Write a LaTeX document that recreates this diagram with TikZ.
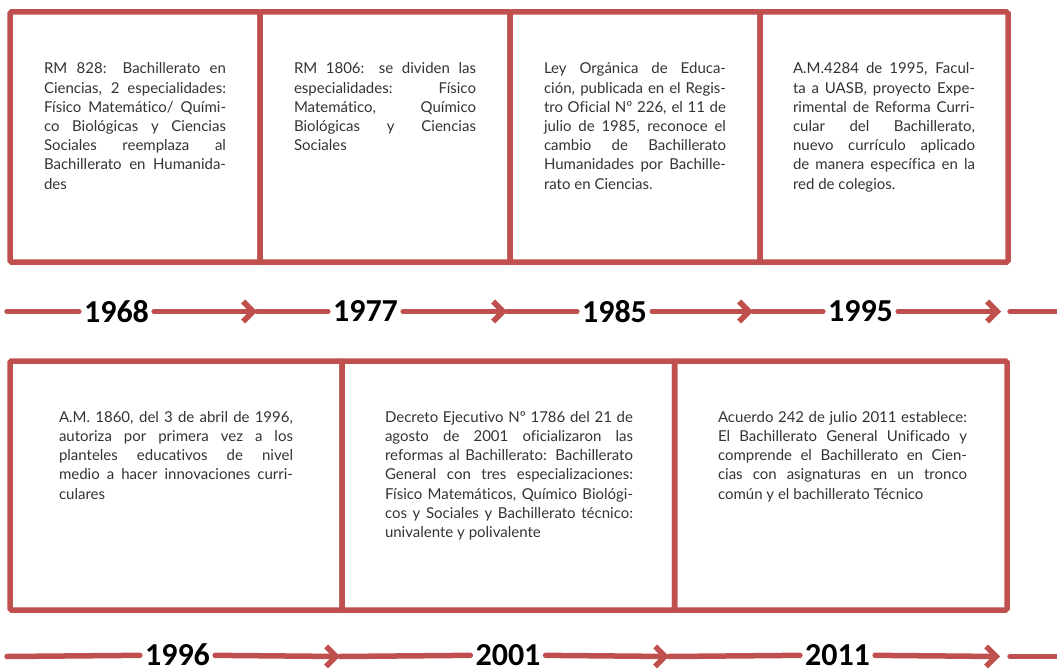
\documentclass[tikz,border=0pt]{standalone}
\usepackage{fontspec}
\setmainfont{Lato}[Ligatures=NoCommon]
\newfontfamily\yearfont{Carlito}
\usetikzlibrary{arrows.meta}
\definecolor{tlred}{HTML}{C0504D}

\begin{document}
\begin{tikzpicture}[x=1pt,y=-1pt,
  card/.style={draw=tlred,line width=5.5pt,rounded corners=1.5pt,inner sep=0pt,outer sep=0pt},
  note/.style={anchor=north,inner sep=0pt,align=justify,text=black!80,
    font={\fontsize{15}{19.2}\selectfont\tolerance=10000\hyphenpenalty=10000}},
  year/.style={inner xsep=5pt,inner ysep=0.5pt,font={\yearfont\bfseries\fontsize{32}{32}\selectfont}},
  tline/.style={tlred,line width=5.5pt,line cap=round},
  tarrow/.style={tline,-{Straight Barb[length=10pt,width=20pt]}}]
\useasboundingbox (0,0) rectangle (1057,671);

% top row of cards
\node[card,minimum width=250pt,minimum height=250pt] (b68) at (135,137) {};
\node[card,minimum width=250pt,minimum height=250pt] (b77) at (385,137) {};
\node[card,minimum width=250pt,minimum height=250pt] (b85) at (635,137) {};
\node[card,minimum width=248pt,minimum height=250pt] (b95) at (884,137) {};

\node[note,text width=182pt] (n68) at (135,62.6) {RM 828: Bachillerato en\linebreak
Ciencias, 2 especialidades:\linebreak
Físico Matemático/ Quími-\linebreak
co Biológicas y Ciencias\linebreak
Sociales reemplaza al\linebreak
Bachillerato en Humanida-\linebreak
des};
\node[note,text width=182pt] (n77) at (385,62.6) {RM 1806: se dividen las\linebreak
especialidades: Físico\linebreak
Matemático, Químico\linebreak
Biológicas y Ciencias\linebreak
Sociales};
\node[note,text width=182pt] (n85) at (635,62.6) {Ley Orgánica de Educa-\linebreak
ción, publicada en el Regis-\linebreak
tro Oficial Nº 226, el 11 de\linebreak
julio de 1985, reconoce el\linebreak
cambio de Bachillerato\linebreak
Humanidades por Bachille-\linebreak
rato en Ciencias.};
\node[note,text width=182pt] (n95) at (884,62.6) {A.M.4284 de 1995, Facul-\linebreak
ta a UASB, proyecto Expe-\linebreak
rimental de Reforma Curri-\linebreak
cular del Bachillerato,\linebreak
nuevo currículo aplicado\linebreak
de manera específica en la\linebreak
red de colegios.};

% top time line
\node[year] (y68) at (116.5,311.5) {1968};
\node[year] (y77) at (365.5,311.5) {1977};
\node[year] (y85) at (614.5,311.5) {1985};
\node[year] (y95) at (860.5,311.5) {1995};
\coordinate (s1) at (7,311.5);
\coordinate (a68) at (257,311.5);
\coordinate (a77) at (507,311.5);
\coordinate (a85) at (753,311.5);
\coordinate (a95) at (1001,311.5);
\coordinate (r1) at (1010,311.5);
\coordinate (e1) at (1065,311.5);

\draw[tline] (s1) -- (y68);
\foreach \from/\tip/\to in {y68/a68/y77,y77/a77/y85,y85/a85/y95} {
  \draw[tarrow] (\from) -- (\tip);
  \draw[tline] (\tip) -- (\to);
}
\draw[tarrow] (y95) -- (a95);
\draw[tline] (r1) -- (e1);

% bottom row of cards
\node[card,minimum width=332pt,minimum height=249pt] (b96) at (176,485.5) {};
\node[card,minimum width=332.5pt,minimum height=249pt] (b01) at (508.25,485.5) {};
\node[card,minimum width=332.5pt,minimum height=249pt] (b11) at (840.75,485.5) {};

\node[note,text width=234pt] (n96) at (176,411) {A.M. 1860, del 3 de abril de 1996,\linebreak
autoriza por primera vez a los\linebreak
planteles educativos de nivel\linebreak
medio a hacer innovaciones curri-\linebreak
culares};
\node[note,text width=248pt] (n01) at (509,411) {Decreto Ejecutivo Nº 1786 del 21 de\linebreak
agosto de 2001 oficializaron las\linebreak
reformas al Bachillerato: Bachillerato\linebreak
General con tres especializaciones:\linebreak
Físico Matemáticos, Químico Biológi-\linebreak
cos y Sociales y Bachillerato técnico:\linebreak
univalente y polivalente};
\node[note,text width=249pt] (n11) at (842.5,411) {Acuerdo 242 de julio 2011 establece:\linebreak
El Bachillerato General Unificado y\linebreak
comprende el Bachillerato en Cien-\linebreak
cias con asignaturas en un tronco\linebreak
común y el bachillerato Técnico};

% bottom time line
\node[year] (y96) at (177.5,655) {1996};
\node[year] (y01) at (508,655) {2001};
\node[year] (y11) at (837.5,655) {2011};
\coordinate (s2) at (7,656.5);
\coordinate (a96) at (340,656.5);
\coordinate (a01) at (669,656.5);
\coordinate (a11) at (1000,656.5);
\coordinate (r2) at (1010,656.5);
\coordinate (e2) at (1065,656.5);

\draw[tline] (s2) -- (y96);
\foreach \from/\tip/\to in {y96/a96/y01,y01/a01/y11} {
  \draw[tarrow] (\from) -- (\tip);
  \draw[tline] (\tip) -- (\to);
}
\draw[tarrow] (y11) -- (a11);
\draw[tline] (r2) -- (e2);

\end{tikzpicture}
\end{document}
